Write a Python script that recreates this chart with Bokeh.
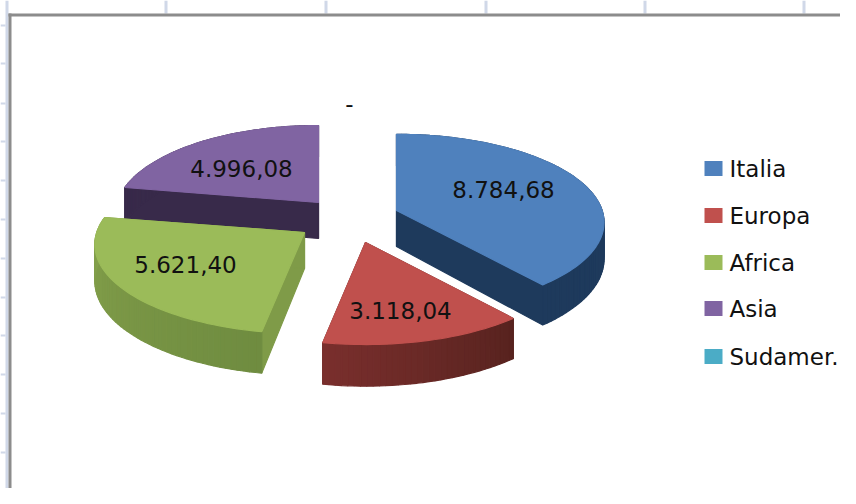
import math
from bokeh.plotting import figure
from bokeh.models import ColumnDataSource
from bokeh.core.properties import value
from bokeh.embed import file_html
from bokeh.resources import INLINE

categories = ["Italia", "Europa", "Africa", "Asia", "Sudamer."]
values = [8784.68, 3118.04, 5621.40, 4996.08, 0.0]
colors = ["#4f81bd", "#c0504d", "#9bbb59", "#8064a2", "#4bacc6"]

# side shading (start of arc, end of arc, radial faces)
SIDE = {
    "Italia": ("#1e3a5c", "#1e3a5c", "#1e3a5c"),
    "Europa": ("#58231f", "#7a2f2d", "#58231f"),
    "Africa": ("#6f8c40", "#86a24c", "#7f9b48"),
    "Asia": ("#382a4a", "#382a4a", "#382a4a"),
}
# layout in screen pixels of the reference: apex, x-scale, y-scale
APEX = {"Italia": (396, 210), "Europa": (365, 242), "Africa": (304, 232), "Asia": (318, 202)}
SCALE = {"Italia": (0.97, 0.95), "Europa": (0.98, 0.97), "Africa": (0.98, 0.96), "Asia": (0.95, 0.96)}
LABEL_POS = {"Italia": (503, 189), "Europa": (400, 310), "Africa": (185, 264),
             "Asia": (241, 168), "Sudamer.": (349, 103)}
LEGEND_Y = [168, 215, 262, 308, 356]
SHEET_COLS = [165, 325, 485, 644, 803]
SHEET_ROWS = [25, 63, 103, 141, 180, 219, 258, 297, 335, 374, 413, 452, 491]
A, B, K, DEPTH = 212, 91, 0.135, 36
DRAW_ORDER = ["Asia", "Italia", "Africa", "Europa"]


def fmt(v):
    if v == 0:
        return "-"
    s = f"{v:,.2f}"
    return s.replace(",", "X").replace(".", ",").replace("X", ".")


def project(name, deg):
    apex = APEX[name]
    sx, sy = SCALE[name]
    t = math.radians(deg)
    s = 1 / (1 + K * math.cos(t))
    return apex[0] + A * sx * math.sin(t) * s, apex[1] - B * sy * math.cos(t) * s, DEPTH * s


def mix(c1, c2, f):
    a = [int(c1[i:i + 2], 16) for i in (1, 3, 5)]
    b = [int(c2[i:i + 2], 16) for i in (1, 3, 5)]
    return "#%02x%02x%02x" % tuple(round(x + (y - x) * f) for x, y in zip(a, b))


total = sum(values)
spans = {}
acc = 0.0
for c, v in zip(categories, values):
    spans[c] = (acc / total * 360, (acc + v) / total * 360)
    acc += v

xs, ys, fills = [], [], []
for name in DRAW_ORDER:
    a0, a1 = spans[name]
    top = colors[categories.index(name)]
    apex = APEX[name]
    c0, c1, rad = SIDE[name]
    n = max(8, int((a1 - a0) / 1.5))
    angles = [a0 + (a1 - a0) * i / n for i in range(n + 1)]
    pts = [project(name, d) for d in angles]
    # radial side faces
    for px, py, dp in (pts[0], pts[-1]):
        xs.append([apex[0], px, px, apex[0]])
        ys.append([apex[1], py, py + dp, apex[1] + DEPTH])
        fills.append(rad)
    # rim strips
    for i in range(n):
        x0, y0, d0 = pts[i]
        x1, y1, d1 = pts[i + 1]
        xs.append([x0, x1, x1, x0])
        ys.append([y0, y1, y1 + d1, y0 + d0])
        fills.append(mix(c0, c1, i / n))
    # top face
    xs.append([apex[0]] + [q[0] for q in pts])
    ys.append([apex[1]] + [q[1] for q in pts])
    fills.append(top)

p = figure(width=840, height=488, x_range=(0, 840), y_range=(488, 0),
           output_backend="svg", toolbar_location=None, min_border=0,
           x_axis_location=None, y_axis_location=None, background_fill_color="white",
           border_fill_color="white", outline_line_color=None)
p.grid.visible = False

# worksheet gridlines around the chart frame, then the frame itself
p.quad(left=[c - 1 for c in SHEET_COLS], right=[c + 2 for c in SHEET_COLS],
       top=[0] * len(SHEET_COLS), bottom=[13] * len(SHEET_COLS),
       fill_color="#d0d8e8", line_color=None)
p.quad(left=[0] * len(SHEET_ROWS), right=[5] * len(SHEET_ROWS),
       top=[r - 1 for r in SHEET_ROWS], bottom=[r + 1 for r in SHEET_ROWS],
       fill_color="#d0d8e8", line_color=None)
p.quad(left=[5], right=[8], top=[0], bottom=[488], fill_color="#d0d8e8", line_color=None)
p.quad(left=[8, 8], right=[840, 11], top=[13, 13], bottom=[16, 488],
       fill_color="#8c8c8c", line_color=None)

p.patches(xs, ys, fill_color=fills, line_color=fills, line_width=1.2)

lab = ColumnDataSource(dict(
    x=[LABEL_POS[c][0] for c in categories],
    y=[LABEL_POS[c][1] for c in categories],
    t=[fmt(v) for v in values]))
p.text("x", "y", text="t", source=lab, text_font=value("DejaVu Sans"),
       text_font_size="23px", text_color="#111111", text_align="center",
       text_baseline="middle")

leg = ColumnDataSource(dict(x=[713] * 5, y=LEGEND_Y, c=colors, tx=[729] * 5, t=categories))
p.rect("x", "y", width=18, height=15, source=leg, fill_color="c", line_color=None)
p.text("tx", "y", text="t", source=leg, text_font=value("DejaVu Sans"),
       text_font_size="23px", text_color="#111111", text_align="left",
       text_baseline="middle")

open("out.html", "w").write(file_html(p, INLINE))
